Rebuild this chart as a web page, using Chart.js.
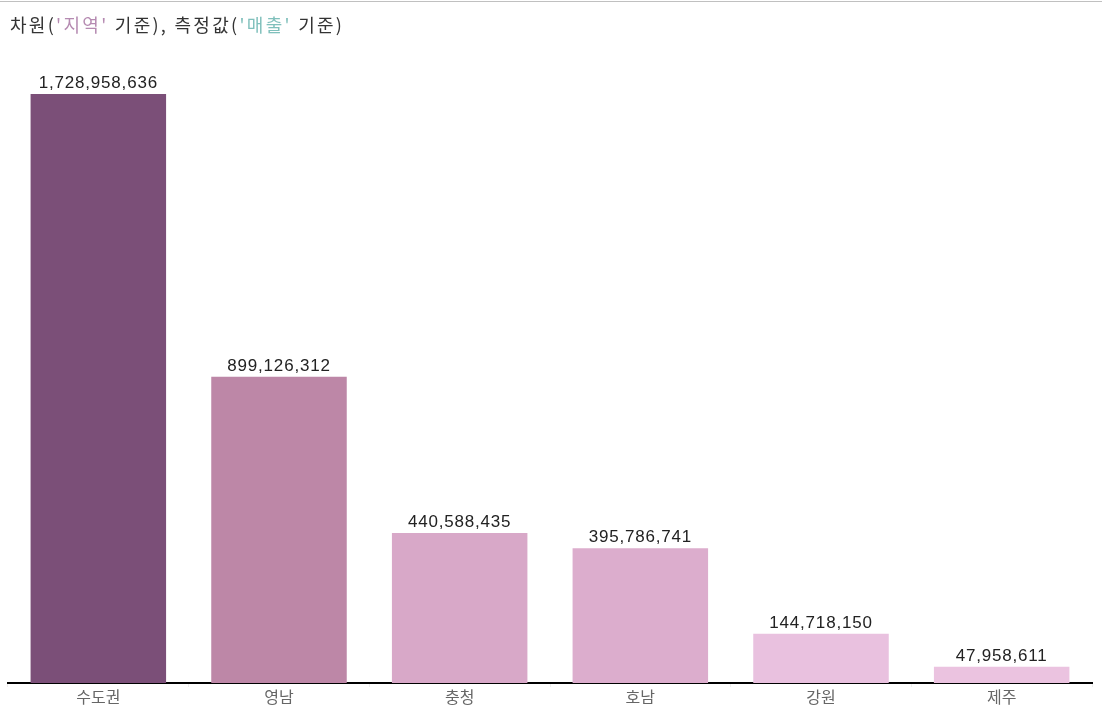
<!DOCTYPE html>
<html>
<head>
<meta charset="utf-8">
<script src="https://cdn.jsdelivr.net/npm/chart.js@4.4.1/dist/chart.umd.min.js"></script>
<style>
  html, body { margin: 0; padding: 0; background: #fff; }
  #wrap { position: relative; width: 1102px; height: 711px; overflow: hidden; }
  #topline { position: absolute; left: 0; top: 1px; width: 1102px; height: 1px; background: #c0c0c0; }
  #title { position: absolute; left: 10px; top: 12px; font-family: "Noto Sans CJK KR", "Noto Sans", sans-serif; font-size: 18px; letter-spacing: 2.3px; color: #333; line-height: 24px; white-space: nowrap; }
  #title .a { color: #b58ab1; }
  #title .b { color: #80c0bc; }
  canvas { position: absolute; left: 0; top: 0; }
</style>
</head>
<body>
<div id="wrap">
  <canvas id="c" width="1102" height="711"></canvas>
  <div id="topline"></div>
  <div id="title">차원(<span class="a">'지역'</span> 기준), 측정값(<span class="b">'매출'</span> 기준)</div>
</div>
<script>
const categories = ['수도권', '영남', '충청', '호남', '강원', '제주'];
const sales = [1728958636, 899126312, 440588435, 395786741, 144718150, 47958611];
const barColors = ['#7b4f78', '#bd87a7', '#d8a8c8', '#dcadcd', '#e9c1df', '#ebc3e0'];

const valueLabels = {
  id: 'valueLabels',
  afterDatasetsDraw(chart) {
    const ctx = chart.ctx;
    const meta = chart.getDatasetMeta(0);
    ctx.save();
    ctx.font = '17px "Liberation Sans", Arial, sans-serif';
    if ('letterSpacing' in ctx) ctx.letterSpacing = '0.8px';
    ctx.fillStyle = '#222';
    ctx.textAlign = 'center';
    ctx.textBaseline = 'alphabetic';
    meta.data.forEach((bar, i) => {
      ctx.fillText(sales[i].toLocaleString('en-US'), bar.x, bar.y - 6);
    });
    ctx.restore();
  }
};

new Chart(document.getElementById('c'), {
  type: 'bar',
  data: {
    labels: categories,
    datasets: [{
      data: sales,
      backgroundColor: barColors,
      borderWidth: 0,
      barPercentage: 0.75,
      categoryPercentage: 1.0
    }]
  },
  options: {
    responsive: false,
    animation: false,
    devicePixelRatio: 1,
    layout: { padding: { top: 60, left: 8, right: 10, bottom: 0 } },
    plugins: { legend: { display: false }, tooltip: { enabled: false }, title: { display: false } },
    scales: {
      x: {
        afterFit(scale) { scale.height = 28; },
        border: { display: true, color: '#000', width: 2 },
        grid: { drawOnChartArea: false, drawTicks: true, tickLength: 4, color: '#eeeeee', offset: true },
        ticks: { color: '#666', padding: 0, font: { family: '"Noto Sans CJK KR", sans-serif', size: 16 } }
      },
      y: {
        display: false,
        min: 0,
        max: 1829000000
      }
    }
  },
  plugins: [valueLabels]
});
</script>
</body>
</html>
